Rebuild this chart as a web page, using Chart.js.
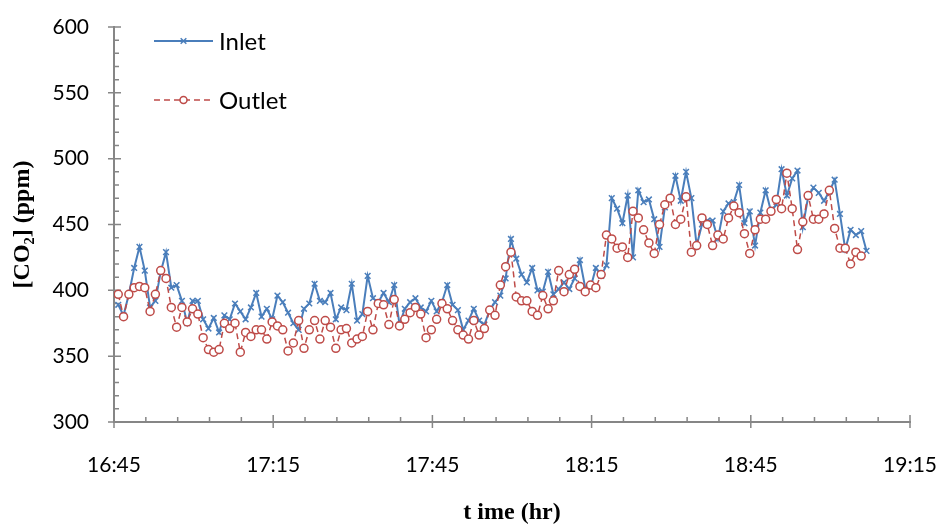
<!DOCTYPE html>
<html>
<head>
<meta charset="utf-8">
<script src="https://cdn.jsdelivr.net/npm/chart.js@4.4.0/dist/chart.umd.min.js"></script>
<style>
  html, body { margin: 0; padding: 0; background: #fff; }
  #wrap { width: 940px; height: 525px; }
</style>
</head>
<body>
<div id="wrap"><canvas id="co2Chart"></canvas></div>
<script>
// minutes after 16:45 of the first reading; one reading per minute after that
const firstReading = 0.8;

const inletPpm = [
  389, 381, 397, 417, 433, 415, 387, 392, 414, 429,
  402, 404, 392, 375, 392, 392, 378, 371, 379, 368,
  381, 378, 390, 384, 378, 387, 398, 380, 386, 378,
  396, 391, 383, 375, 370, 386, 390, 405, 392, 391,
  398, 378, 387, 385, 405, 377, 382, 411, 394, 391,
  398, 391, 404, 374, 386, 391, 394, 387, 384, 392,
  384, 391, 404, 389, 385, 370, 377, 386, 377, 374,
  385, 391, 396, 409, 439, 424, 412, 406, 417, 400,
  399, 414, 397, 401, 406, 401, 409, 423, 402, 402,
  417, 411, 419, 470, 462, 451, 472, 425, 476, 467,
  469, 454, 433, 463, 470, 487, 468, 490, 470, 434,
  450, 453, 453, 439, 460, 466, 467, 480, 451, 460,
  434, 459, 476, 460, 465, 492, 472, 485, 491, 448,
  471, 478, 474, 468, 475, 484, 458, 431, 446, 442,
  445, 430
];

const outletPpm = [
  397, 380, 397, 402, 403, 402, 384, 397, 415, 409,
  387, 372, 387, 376, 386, 382, 364, 355, 353, 355,
  375, 371, 375, 353, 368, 365, 370, 370, 363, 376,
  373, 370, 354, 360, 377, 356, 370, 377, 363, 377,
  372, 356, 370, 371, 360, 363, 365, 384, 370, 390,
  389, 374, 393, 373, 378, 383, 387, 382, 364, 370,
  378, 390, 386, 377, 370, 366, 363, 377, 366, 371,
  385, 381, 404, 418, 429, 395, 392, 392, 384, 381,
  396, 386, 392, 415, 399, 412, 416, 403, 399, 404,
  402, 412, 442, 439, 432, 433, 425, 460, 455, 446,
  436, 428, 450, 465, 470, 450, 454, 471, 429, 434,
  455, 450, 434, 442, 439, 455, 464, 459, 443, 428,
  446, 454, 454, 460, 469, 462, 489, 462, 431, 452,
  472, 454, 454, 458, 476, 447, 432, 432, 420, 429,
  426
];

const xTickValues = [0, 30, 60, 90, 120, 150];
const xTickLabels = ['16:45', '17:15', '17:45', '18:15', '18:45', '19:15'];
const yTickValues = [300, 350, 400, 450, 500, 550, 600];

const blue = '#4a7ebb';
const red = '#be4b48';
const axisGrey = '#868686';

function toPoints(values) {
  return values.map((v, i) => ({ x: firstReading + i, y: v }));
}

// excel style ticks: majors cross the axis, minors only point inwards
const axisTicks = {
  id: 'axisTicks',
  beforeDatasetsDraw(chart) {
    const { ctx, chartArea: area, scales: { x, y } } = chart;
    ctx.save();
    ctx.strokeStyle = axisGrey;
    ctx.lineWidth = 1.5;
    ctx.beginPath();
    for (let v = 300; v <= 600; v += 10) {
      const py = y.getPixelForValue(v);
      const major = v % 50 === 0;
      ctx.moveTo(area.left - (major ? 6 : 0), py);
      ctx.lineTo(area.left + (major ? 7 : 5), py);
    }
    for (let m = 0; m <= 150; m += 6) {
      const px = x.getPixelForValue(m);
      const major = m % 30 === 0;
      ctx.moveTo(px, area.bottom + (major ? 6 : 0));
      ctx.lineTo(px, area.bottom - (major ? 7 : 5));
    }
    ctx.stroke();
    ctx.restore();
  }
};

// legend drawn inside the plot, top left, like the original
const insideLegend = {
  id: 'insideLegend',
  afterDraw(chart) {
    const { ctx, chartArea: area } = chart;
    const items = [
      { text: 'Inlet', color: blue, dash: [], style: 'crossRot', r: 4, y: area.top + 14 },
      { text: 'Outlet', color: red, dash: [6, 4], style: 'circle', r: 3.5, y: area.top + 73 }
    ];
    const x0 = area.left + 40;
    const x1 = area.left + 99;
    ctx.save();
    items.forEach(it => {
      ctx.strokeStyle = it.color;
      ctx.lineWidth = it.dash.length ? 1.5 : 2;
      ctx.setLineDash(it.dash);
      ctx.beginPath();
      ctx.moveTo(x0, it.y);
      ctx.lineTo(x1, it.y);
      ctx.stroke();
      ctx.setLineDash([]);
      ctx.lineWidth = 1.5;
      ctx.fillStyle = '#fff';
      Chart.helpers.drawPoint(ctx, { pointStyle: it.style, radius: it.r, borderWidth: 1.5 }, (x0 + x1) / 2, it.y);
      ctx.fillStyle = '#000';
      ctx.font = '24px Lato';
      ctx.textBaseline = 'middle';
      ctx.fillText(it.text, x1 + 6, it.y + 1);
    });
    ctx.restore();
  }
};

const data = {
  datasets: [
    {
      label: 'Inlet',
      data: toPoints(inletPpm),
      borderColor: blue,
      backgroundColor: blue,
      borderWidth: 2,
      pointStyle: 'crossRot',
      pointRadius: 4,
      pointBorderWidth: 1.5,
      order: 2
    },
    {
      label: 'Outlet',
      data: toPoints(outletPpm),
      borderColor: red,
      backgroundColor: '#fff',
      borderWidth: 1.5,
      borderDash: [6, 4],
      pointStyle: 'circle',
      pointRadius: 4,
      pointBorderWidth: 1.5,
      order: 1
    }
  ]
};

const config = {
  type: 'line',
  data: data,
  options: {
    responsive: true,
    maintainAspectRatio: false,
    animation: false,
    events: [],
    layout: {
      padding: { left: 0, right: 4, top: 27, bottom: 0 }
    },
    plugins: {
      legend: { display: false },
      tooltip: { enabled: false }
    },
    scales: {
      x: {
        type: 'linear',
        min: 0,
        max: 150,
        afterBuildTicks: (scale) => { scale.ticks = xTickValues.map(v => ({ value: v })); },
        afterFit: (scale) => { scale.paddingRight = 30; scale.height = 103; },
        ticks: {
          color: '#000',
          font: { family: 'Lato', size: 21 },
          padding: 31,
          maxRotation: 0,
          callback: (v) => xTickLabels[xTickValues.indexOf(v)]
        },
        grid: { display: false, drawTicks: false },
        border: { display: true, color: axisGrey, width: 2 },
        title: {
          display: true,
          text: 't ime (hr)',
          color: '#000',
          font: { family: 'Liberation Serif', size: 24, weight: 'bold', lineHeight: 1 },
          padding: { top: 16, bottom: 0 }
        }
      },
      y: {
        min: 300,
        max: 600,
        afterBuildTicks: (scale) => { scale.ticks = yTickValues.map(v => ({ value: v })); },
        afterFit: (scale) => { scale.width = 114; scale.paddingTop = 0; },
        ticks: {
          color: '#000',
          font: { family: 'Lato', size: 21 },
          padding: 25
        },
        grid: { display: false, drawTicks: false },
        border: { display: true, color: axisGrey, width: 2 },
        title: {
          display: true,
          text: '[CO₂] (ppm)',
          color: '#000',
          font: { family: 'Liberation Serif', size: 24, weight: 'bold' },
          padding: { top: 8, bottom: 0 }
        }
      }
    }
  },
  plugins: [axisTicks, insideLegend]
};

new Chart(document.getElementById('co2Chart'), config);
</script>
</body>
</html>
